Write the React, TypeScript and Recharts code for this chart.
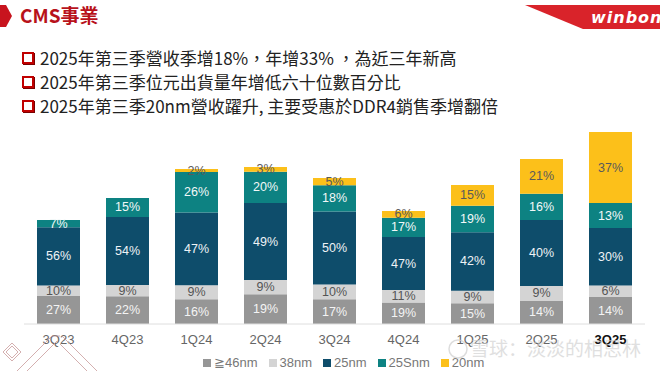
import React from "react";
import { BarChart, Bar, XAxis, YAxis, LabelList } from "recharts";

// quarters and relative CMS revenue (bar height index)
const quarters = ["3Q23", "4Q23", "1Q24", "2Q24", "3Q24", "4Q24", "1Q25", "2Q25", "3Q25"];
const revenue = [104, 126, 155, 157, 146, 113, 139, 165, 192];

// process-node mix, % of each quarter
const p46 = [27, 22, 16, 19, 17, 19, 15, 14, 14];
const p38 = [10, 9, 9, 9, 10, 11, 9, 9, 6];
const p25 = [56, 54, 47, 49, 50, 47, 42, 40, 30];
const p25s = [7, 15, 26, 20, 18, 17, 19, 16, 13];
const p20 = [0, 0, 2, 3, 5, 6, 15, 21, 37];

const series = [
  { key: "n46", name: "≧46nm", pct: p46, color: "#969696", text: "#f4f4f4" },
  { key: "n38", name: "38nm", pct: p38, color: "#d4d4d4", text: "#555555" },
  { key: "n25", name: "25nm", pct: p25, color: "#0e4d6b", text: "#eef3f6" },
  { key: "n25s", name: "25Snm", pct: p25s, color: "#0d8282", text: "#f2f8f8" },
  { key: "n20", name: "20nm", pct: p20, color: "#fcc01a", text: "#5a5a5a" },
];

const data = quarters.map((q, i) => {
  const row: Record<string, string | number> = { q };
  series.forEach((s) => {
    row[s.key] = (revenue[i] * s.pct[i]) / 100;
    row[s.key + "_p"] = s.pct[i];
  });
  return row;
});

const bullets = [
  "2025年第三季營收季增18%，年增33% ，為近三年新高",
  "2025年第三季位元出貨量年增低六十位數百分比",
  "2025年第三季20nm營收躍升, 主要受惠於DDR4銷售季增翻倍",
];

const FONT = "'Liberation Sans', Arial, sans-serif";

function pctLabel(color: string) {
  return (props: any) => {
    const { x, y, width, height, value } = props;
    if (!value) return null;
    return (
      <text
        x={Number(x) + Number(width) / 2}
        y={Number(y) + Number(height) / 2}
        textAnchor="middle"
        dominantBaseline="central"
        fill={color}
        fontSize={12.5}
        fontFamily={FONT}
      >
        {value}%
      </text>
    );
  };
}

function QuarterTick(props: any) {
  const { x, y, payload } = props;
  const last = payload.value === "3Q25";
  return (
    <text
      x={x}
      y={y + 12}
      textAnchor="middle"
      fontSize={13}
      fontFamily={FONT}
      fontWeight={last ? 700 : 400}
      fill={last ? "#111" : "#666"}
    >
      {payload.value}
    </text>
  );
}

export default function App() {
  return (
    <div
      style={{
        position: "absolute",
        top: 0,
        left: 0,
        width: 660,
        height: 371,
        background: "#fff",
        overflow: "hidden",
        fontFamily: "'Noto Sans CJK TC', sans-serif",
      }}
    >
      {/* header */}
      <svg width={660} height={40} style={{ position: "absolute", top: 0, left: 0 }}>
        <polygon points="0,5 6,5 12,16 6,27 0,27" fill="#c8141e" />
        <text x={20} y={23} fontSize={19} fontWeight={700} fill="#b8121b" fontFamily="'Noto Sans CJK TC', sans-serif">
          CMS事業
        </text>
        <polygon points="525,5 660,5 660,29 583,29" fill="#d9232a" />
        <text x={591} y={23} fontSize={16} fontWeight={700} fontStyle="italic" fill="#fff" fontFamily="'DejaVu Sans', sans-serif" letterSpacing={1}>
          winbon
        </text>
      </svg>

      {/* bullets */}
      {bullets.map((b, i) => (
        <div
          key={i}
          style={{
            position: "absolute",
            left: 22,
            top: 46 + i * 24,
            display: "flex",
            alignItems: "center",
            fontSize: 17,
            color: "#222",
            whiteSpace: "nowrap",
            lineHeight: "24px",
          }}
        >
          <span
            style={{
              display: "inline-block",
              width: 8,
              height: 8,
              border: "2px solid #c00000",
              boxShadow: "1px 1px 0 #7a0000",
              marginRight: 6,
            }}
          />
          {b}
        </div>
      ))}

      <div style={{ position: "absolute", top: 0, left: 0 }}>
        <BarChart width={660} height={371} data={data} margin={{ top: 132, right: 15, bottom: 17, left: 24 }}>
          <YAxis hide domain={[0, 192]} allowDataOverflow />
          <XAxis
            dataKey="q"
            axisLine={{ stroke: "#dedede" }}
            tickLine={false}
            height={30}
            interval={0}
            tick={<QuarterTick />}
          />
          {series.map((s) => (
            <Bar key={s.key} dataKey={s.key} stackId="a" fill={s.color} barSize={43} isAnimationActive={false}>
              <LabelList dataKey={s.key + "_p"} content={pctLabel(s.text)} />
            </Bar>
          ))}
        </BarChart>
      </div>

      {/* legend */}
      <div
        style={{
          position: "absolute",
          left: 203,
          top: 355,
          display: "flex",
          gap: 11,
          fontSize: 13,
          fontFamily: FONT,
          color: "#777",
          whiteSpace: "nowrap",
        }}
      >
        {series.map((s) => (
          <div key={s.key} style={{ display: "flex", alignItems: "center" }}>
            <span style={{ width: 8, height: 8, background: s.color, marginRight: 3, display: "inline-block" }} />
            {s.name}
          </div>
        ))}
      </div>

      {/* watermark + corner decoration */}
      <svg width={660} height={371} style={{ position: "absolute", top: 0, left: 0, pointerEvents: "none" }}>
        <g stroke="#c99a9a" strokeWidth={0.8} fill="none">
          <polygon points="12,343 21,352 12,361 3,352" />
          <polygon points="12,346 18,352 12,358 6,352" />
          <polyline points="17,371 52,336 60,336" />
          <polyline points="27,371 57,341" />
          <polyline points="62,336 97,371" />
          <polyline points="60,344 87,371" />
        </g>
        <circle cx={458} cy={349} r={9} fill="none" stroke="#cfcfcf" strokeWidth={1.5} opacity={0.7} />
        <text x={470} y={356} fontSize={19} fill="#cfcfcf" opacity={0.65} fontFamily="'Noto Sans CJK SC', sans-serif">
          雪球：淡淡的相思林
        </text>
      </svg>
    </div>
  );
}
